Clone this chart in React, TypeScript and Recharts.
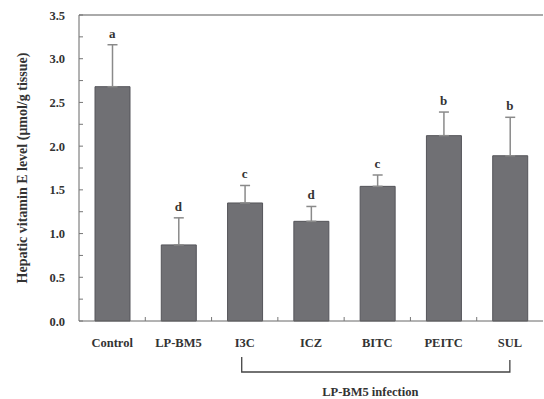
import React from "react";
import {
  Bar,
  ComposedChart,
  ErrorBar,
  LabelList,
  Line,
  ReferenceLine,
  XAxis,
  YAxis
} from "recharts";

const groups = ["Control", "LP-BM5", "I3C", "ICZ", "BITC", "PEITC", "SUL"];
const vitaminE = [2.68, 0.87, 1.35, 1.14, 1.54, 2.12, 1.89];
const stdErr = [0.48, 0.31, 0.2, 0.17, 0.13, 0.27, 0.44];
const letters = ["a", "d", "c", "d", "c", "b", "b"];
const yTicks = [0, 0.25, 0.5, 0.75, 1, 1.25, 1.5, 1.75, 2, 2.25, 2.5, 2.75, 3, 3.25, 3.5];
const bracketFrom = "I3C";
const bracketTo = "SUL";
const bracketLabel = "LP-BM5 infection";
const yTitle = "Hepatic vitamin E level (\u03bcmol/g tissue)";

const data = groups.map((name, i) => ({
  name,
  value: vitaminE[i],
  err: [0, stdErr[i]],
  top: vitaminE[i] + stdErr[i],
  letter: letters[i]
}));

const FONT = "'Liberation Serif', 'Times New Roman', serif";
const BAND = (543 - 79) / groups.length;

function YTick(props: any) {
  const { x, y, payload } = props;
  const v = payload.value as number;
  const major = Math.abs(v * 2 - Math.round(v * 2)) < 1e-6;
  return (
    <g>
      <line x1={x + 14} x2={x + 18} y1={y} y2={y} stroke="#777" />
      {major && (
        <text x={x} y={y} dy={4.5} textAnchor="end" fontFamily={FONT} fontWeight="bold" fontSize={12.5} fill="#333">
          {v.toFixed(1)}
        </text>
      )}
    </g>
  );
}

function XTick(props: any) {
  const { x, y, payload, index } = props;
  const from = groups.indexOf(bracketFrom);
  const to = groups.indexOf(bracketTo);
  return (
    <g>
      {index < groups.length - 1 && (
        <line x1={x + BAND / 2} x2={x + BAND / 2} y1={y} y2={y - 4} stroke="#777" />
      )}
      <text x={x} y={y + 26} textAnchor="middle" fontFamily={FONT} fontWeight="bold" fontSize={12.5} fill="#333">
        {payload.value}
      </text>
      {index === from && (
        <g stroke="#444" strokeWidth={1.3} fill="none">
          <path d={`M${x - 3},${y + 36} L${x - 3},${y + 51} L${x + (to - from) * BAND},${y + 51} L${x + (to - from) * BAND},${y + 39}`} />
          <text
            x={x + ((to - from) * BAND) / 2 - 7}
            y={y + 75}
            textAnchor="middle"
            fontFamily={FONT}
            fontWeight="bold"
            fontSize={12.5}
            fill="#333"
            stroke="none"
          >
            {bracketLabel}
          </text>
        </g>
      )}
    </g>
  );
}

function YTitle(props: any) {
  const vb = props.viewBox || {};
  const cy = (vb.y ?? 15) + (vb.height ?? 306) / 2;
  const cx = 22;
  return (
    <text
      x={cx}
      y={cy}
      transform={`rotate(-90, ${cx}, ${cy})`}
      textAnchor="middle"
      dominantBaseline="central"
      fontFamily={FONT}
      fontWeight="bold"
      fontSize={14}
      fill="#333"
    >
      {yTitle}
    </text>
  );
}

export default function App() {
  return (
    <div style={{ position: "absolute", left: 0, top: 0, width: 544, height: 399, background: "#fff" }}>
      <ComposedChart width={544} height={399} data={data} margin={{ top: 15, right: 1, left: 0, bottom: 0 }}>
        <XAxis
          dataKey="name"
          height={78}
          tickSize={0}
          tickMargin={0}
          tick={<XTick />}
          axisLine={{ stroke: "#666" }}
          interval={0}
        />
        <YAxis
          width={79}
          domain={[0, 3.5]}
          ticks={yTicks}
          interval={0}
          tickSize={0}
          tickMargin={14}
          tick={<YTick />}
          axisLine={{ stroke: "#666" }}
          label={<YTitle />}
        />
        <ReferenceLine y={3.5} stroke="#aaa" strokeWidth={2} />
        <Bar dataKey="value" barSize={35} fill="#707074" stroke="#55555a" isAnimationActive={false}>
          <ErrorBar dataKey="err" direction="y" width={5} stroke="#8a8a8a" strokeWidth={1.5} />
        </Bar>
        <Line dataKey="top" stroke="none" dot={false} activeDot={false} isAnimationActive={false}>
          <LabelList dataKey="letter" position="top" offset={7} fontFamily={FONT} fontWeight="bold" fontSize={13} fill="#333" />
        </Line>
      </ComposedChart>
    </div>
  );
}
